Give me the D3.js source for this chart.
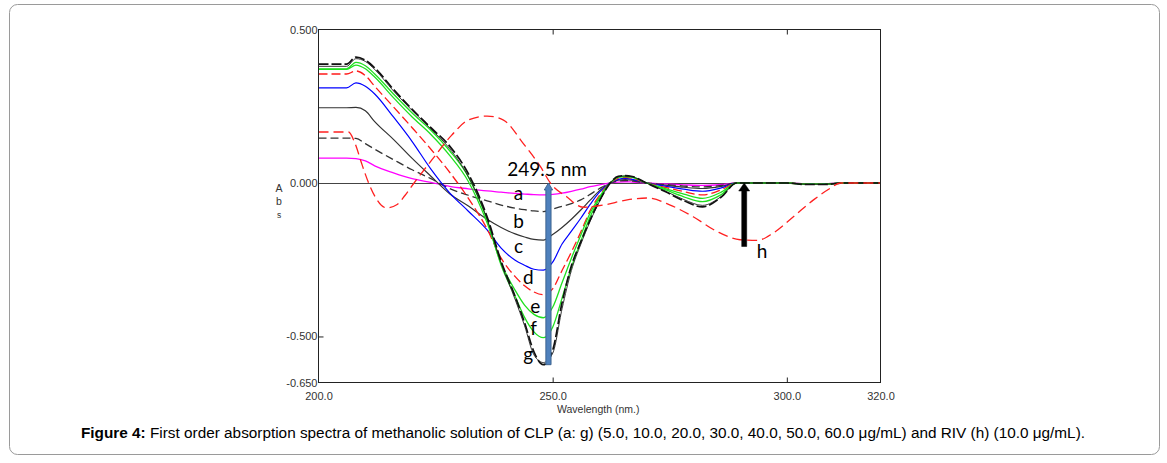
<!DOCTYPE html>
<html><head><meta charset="utf-8">
<script src="https://cdn.jsdelivr.net/npm/d3@7"></script>
<style>html,body{margin:0;padding:0;background:#fff;} svg{display:block;}</style>
</head><body><svg id="chart" width="1167" height="463"></svg>
<script>
// ---------------- DATA ----------------
const wavelengths = [200, 206, 208, 210, 212, 216, 220, 224, 228, 232, 236, 239, 242, 244, 246, 248, 250, 252, 254, 256, 258, 260, 262.3, 264, 265.5, 267, 270, 274, 278, 282, 286, 289.3, 295, 300, 304, 308, 312, 320];

const clpA  = [0.081, 0.081, 0.079, 0.072, 0.056, 0.033, 0.014, 0.002, -0.011, -0.019, -0.026, -0.030, -0.034, -0.036, -0.038, -0.039, -0.037, -0.033, -0.027, -0.020, -0.012, -0.006, 0, 0.003, 0.004, 0.003, 0, -0.003, -0.006, -0.008, -0.005, 0, 0, 0, -0.002, -0.002, 0, 0];
const clpB  = [0.146, 0.146, 0.145, 0.128, 0.110, 0.076, 0.043, 0.014, -0.018, -0.040, -0.058, -0.072, -0.082, -0.087, -0.091, -0.093, -0.085, -0.076, -0.067, -0.055, -0.037, -0.018, 0, 0.006, 0.008, 0.006, 0, -0.005, -0.010, -0.013, -0.008, 0, 0, 0, -0.003, -0.003, 0, 0];
const clpC  = [0.245, 0.245, 0.246, 0.235, 0.200, 0.142, 0.080, 0.022, -0.035, -0.075, -0.118, -0.145, -0.166, -0.176, -0.184, -0.186, -0.168, -0.145, -0.118, -0.088, -0.056, -0.025, 0, 0.009, 0.011, 0.009, 0, -0.007, -0.014, -0.018, -0.011, 0, 0, 0, -0.003, -0.003, 0, 0];
const clpD  = [0.310, 0.310, 0.326, 0.315, 0.290, 0.215, 0.135, 0.045, -0.032, -0.092, -0.153, -0.212, -0.252, -0.268, -0.281, -0.284, -0.258, -0.199, -0.157, -0.115, -0.070, -0.030, 0, 0.012, 0.015, 0.012, 0, -0.010, -0.020, -0.027, -0.016, 0, 0, 0, -0.004, -0.004, 0, 0];
const clpE  = [0.355, 0.355, 0.365, 0.350, 0.315, 0.248, 0.180, 0.110, 0.035, -0.050, -0.150, -0.245, -0.305, -0.335, -0.355, -0.364, -0.345, -0.285, -0.225, -0.160, -0.090, -0.040, 0, 0.015, 0.018, 0.015, 0, -0.014, -0.028, -0.039, -0.022, 0, 0, 0, -0.004, -0.004, 0, 0];
const clpF1 = [0.370, 0.370, 0.384, 0.372, 0.345, 0.278, 0.215, 0.158, 0.090, 0.005, -0.130, -0.262, -0.350, -0.398, -0.428, -0.439, -0.405, -0.325, -0.245, -0.170, -0.098, -0.045, 0, 0.018, 0.021, 0.018, 0, -0.018, -0.036, -0.050, -0.030, 0, 0, 0, -0.004, -0.004, 0, 0];
const clpF2 = [0.372, 0.372, 0.393, 0.382, 0.355, 0.290, 0.228, 0.172, 0.105, 0.020, -0.120, -0.268, -0.370, -0.438, -0.485, -0.504, -0.470, -0.375, -0.275, -0.190, -0.110, -0.050, 0, 0.020, 0.022, 0.020, 0, -0.022, -0.045, -0.061, -0.038, 0, 0, 0, -0.004, -0.004, 0, 0];
const clpG1 = [0.387, 0.387, 0.410, 0.400, 0.375, 0.305, 0.240, 0.180, 0.120, 0.030, -0.110, -0.255, -0.370, -0.455, -0.550, -0.592, -0.545, -0.390, -0.270, -0.192, -0.120, -0.058, 0, 0.022, 0.024, 0.021, 0, -0.028, -0.058, -0.078, -0.046, 0, 0, 0, -0.005, -0.005, 0, 0];
const clpG2 = [0.380, 0.380, 0.405, 0.396, 0.370, 0.300, 0.236, 0.176, 0.112, 0.020, -0.118, -0.262, -0.380, -0.465, -0.560, -0.585, -0.555, -0.410, -0.285, -0.200, -0.125, -0.060, 0, 0.020, 0.023, 0.020, 0, -0.026, -0.054, -0.073, -0.044, 0, 0, 0, -0.004, -0.004, 0, 0];

const rivWavelengths = [200, 206.4, 207.8, 209.2, 210.7, 212.1, 214.5, 216.8, 218.5, 220.6, 224.2, 228.4, 232, 236, 239.5, 243.7, 247.4, 249.5, 253, 256.5, 260.8, 265.9, 270.2, 275.1, 280, 285.1, 290, 293.7, 297.1, 301.4, 305.7, 309.3, 311.4, 320];
const rivValues      = [0.166, 0.166, 0.129, 0.064, 0.0, -0.045, -0.081, -0.070, -0.040, 0.004, 0.075, 0.155, 0.205, 0.218, 0.205, 0.129, 0.053, 0.0, -0.045, -0.079, -0.072, -0.055, -0.049, -0.072, -0.110, -0.158, -0.185, -0.187, -0.163, -0.110, -0.055, -0.017, 0.0, 0.0];

const xTicks = [200, 250, 300, 320];
const xInnerTicks = [250, 300];
const yTicks = [0.5, 0, -0.5, -0.65];

const labelTexts       = ["a", "b", "c", "d", "e", "f", "g", "h"];
const labelWavelengths = [242.7, 242.7, 242.7, 244.8, 246.3, 245.9, 244.8, 294.7];
const labelAbs         = [-0.055, -0.146, -0.228, -0.329, -0.423, -0.495, -0.579, -0.244];

const peakText = "249.5 nm";
const peakTextPos = [240.3, 0.023];

const arrowWavelengths = [249.1, 290.9];
const arrowFrom = [-0.592, -0.207];
const arrowTo = [0, 0];

const captionBold = "Figure 4:";
const captionRest = " First order absorption spectra of methanolic solution of CLP (a: g) (5.0, 10.0, 20.0, 30.0, 40.0, 50.0, 60.0 μg/mL) and RIV (h) (10.0 μg/mL).";

// ---------------- CHART ----------------
const svg = d3.select("#chart");
const W = 1167, H = 463;

svg.append("rect").attr("x", 9.5).attr("y", 4.5).attr("width", 1150).attr("height", 450)
  .attr("rx", 8).attr("ry", 8).attr("fill", "#fff").attr("stroke", "#9a9a9a").attr("stroke-width", 1);

const x = d3.scaleLinear().domain([200, 320]).range([318.5, 880.5]);
const y = d3.scaleLinear().domain([-0.65, 0.5]).range([382.5, 29.5]);

const fmtLocale = d3.formatLocale({decimal: ".", thousands: ",", grouping: [3], currency: ["", ""], minus: "-"});

svg.append("defs").append("clipPath").attr("id", "plotclip")
  .append("rect").attr("x", x(200)).attr("y", y(0.5)).attr("width", x(320) - x(200)).attr("height", y(-0.65) - y(0.5));

// zero line
svg.append("line").attr("x1", x(200)).attr("x2", x(320)).attr("y1", Math.round(y(0)) + 0.5).attr("y2", Math.round(y(0)) + 0.5)
  .attr("stroke", "#444").attr("stroke-width", 1);

const series = [
  {vals: clpA,  color: "#ff00ff", dash: null,   w: 1.3},
  {vals: clpB,  color: "#333333", dash: "8,4",  w: 1.3},
  {vals: clpC,  color: "#333333", dash: null,   w: 1.2},
  {vals: clpD,  color: "#0000ff", dash: null,   w: 1.2},
  {vals: clpE,  color: "#ff1a1a", dash: "9,4",  w: 1.3},
  {vals: clpF1, color: "#1fe01f", dash: null,   w: 1.3},
  {vals: clpF2, color: "#1fe01f", dash: null,   w: 1.3},
  {vals: clpG2, color: "#222222", dash: null,   w: 0.9},
  {vals: clpG1, color: "#111111", dash: "10,3", w: 1.7}
];

const line = d3.line().x(d => x(d[0])).y(d => y(d[1])).curve(d3.curveMonotoneX);
const gLines = svg.append("g").attr("clip-path", "url(#plotclip)");
series.forEach(s => {
  gLines.append("path").datum(wavelengths.map((w, i) => [w, s.vals[i]]))
    .attr("d", line).attr("fill", "none").attr("stroke", s.color)
    .attr("stroke-width", s.w).attr("stroke-dasharray", s.dash).attr("stroke-linejoin", "round");
});
gLines.append("path").datum(rivWavelengths.map((w, i) => [w, rivValues[i]]))
  .attr("d", line).attr("fill", "none").attr("stroke", "#ff2020")
  .attr("stroke-width", 1.3).attr("stroke-dasharray", "10,5");

// frame
svg.append("rect").attr("x", x(200)).attr("y", y(0.5)).attr("width", x(320) - x(200)).attr("height", y(-0.65) - y(0.5))
  .attr("fill", "none").attr("stroke", "#222").attr("stroke-width", 1);

// axes
const tickFont = "'Liberation Sans', Arial, sans-serif";
const xAxis = svg.append("g").attr("transform", `translate(0,${y(-0.65)})`)
  .call(d3.axisBottom(x).tickValues(xTicks).tickSizeInner(-5).tickSizeOuter(0).tickPadding(10).tickFormat(d3.format(".1f")));
const yAxis = svg.append("g").attr("transform", `translate(${x(200)},0)`)
  .call(d3.axisLeft(y).tickValues(yTicks).tickSizeInner(-5).tickSizeOuter(0).tickPadding(1).tickFormat(fmtLocale.format(".3f")));
const topAxis = svg.append("g").attr("transform", `translate(0,${y(0.5)})`)
  .call(d3.axisTop(x).tickValues(xInnerTicks).tickSizeInner(-5).tickSizeOuter(0).tickFormat(""));
[xAxis, yAxis, topAxis].forEach(g => {
  g.select(".domain").remove();
  g.selectAll(".tick line").attr("stroke", "#222");
  g.selectAll(".tick text").attr("fill", "#333").style("font-family", tickFont).style("font-size", "11px");
});
xAxis.selectAll(".tick").filter(d => xInnerTicks.indexOf(d) < 0).select("line").remove();
yAxis.selectAll(".tick").filter(d => d !== -0.5).select("line").remove();

// axis titles
svg.append("text").attr("x", 557).attr("y", 413).attr("fill", "#333")
  .style("font-family", tickFont).style("font-size", "10.5px").text("Wavelength (nm.)");
const yt = svg.append("text").attr("text-anchor", "middle").attr("fill", "#333").style("font-family", tickFont);
yt.append("tspan").attr("x", 279).attr("y", 192).style("font-size", "10.5px").text("A");
yt.append("tspan").attr("x", 279).attr("y", 205).style("font-size", "10.5px").text("b");
yt.append("tspan").attr("x", 279).attr("y", 218).style("font-size", "8.5px").text("s");

// arrows
function arrowPath(px, y0, y1, shaftHalf, headHalf, headLen) {
  return `M${px - shaftHalf},${y0} L${px - shaftHalf},${y1 + headLen} L${px - headHalf},${y1 + headLen} L${px},${y1} ` +
         `L${px + headHalf},${y1 + headLen} L${px + shaftHalf},${y1 + headLen} L${px + shaftHalf},${y0} Z`;
}
svg.append("path").attr("d", arrowPath(x(arrowWavelengths[0]), y(arrowFrom[0]), y(arrowTo[0]), 2.6, 4.2, 7))
  .attr("fill", "#4f81bd").attr("stroke", "#385d8a").attr("stroke-width", 0.9);
svg.append("path").attr("d", arrowPath(x(arrowWavelengths[1]), y(arrowFrom[1]), y(arrowTo[1]), 2.5, 5.5, 8))
  .attr("fill", "#000").attr("stroke", "#000").attr("stroke-width", 0.5);

// annotation labels
const annFont = "Lato, 'Open Sans', sans-serif";
labelTexts.forEach((t, i) => {
  svg.append("text").attr("x", x(labelWavelengths[i])).attr("y", y(labelAbs[i]))
    .attr("text-anchor", "middle").attr("fill", "#000")
    .style("font-family", annFont).style("font-size", "19px").text(t);
});
svg.append("text").attr("x", x(peakTextPos[0])).attr("y", y(peakTextPos[1])).attr("fill", "#000")
  .style("font-family", annFont).style("font-size", "19px").text(peakText);

// caption
const cap = svg.append("text").attr("x", 583).attr("y", 438).attr("text-anchor", "middle").attr("fill", "#000")
  .style("font-family", tickFont).style("font-size", "13px");
cap.append("tspan").style("font-weight", "bold").text(captionBold);
cap.append("tspan").text(captionRest);
const cw = cap.node().getComputedTextLength();
if (cw > 0) cap.style("font-size", (13 * 1005 / cw).toFixed(2) + "px");
</script></body></html>
